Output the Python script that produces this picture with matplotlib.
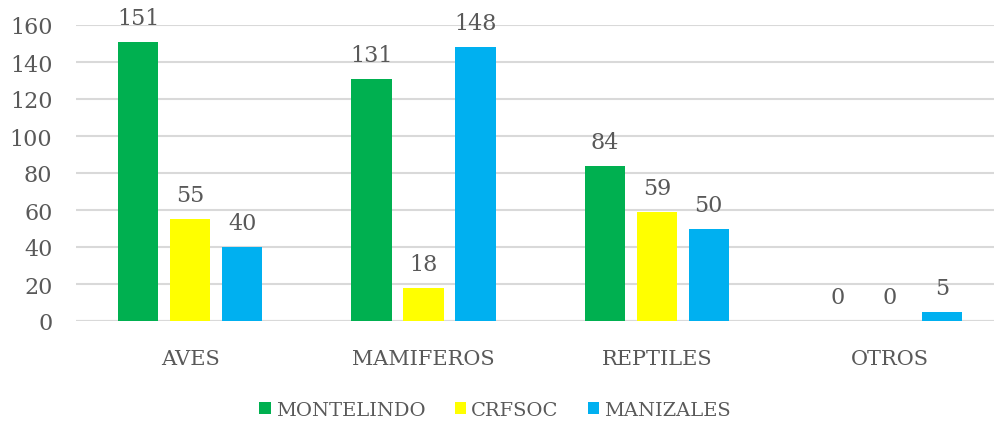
import matplotlib
matplotlib.use("Agg")
import matplotlib.pyplot as plt
import numpy as np

categories = ["AVES", "MAMIFEROS", "REPTILES", "OTROS"]
series_names = ["MONTELINDO", "CRFSOC", "MANIZALES"]
montelindo = [151, 131, 84, 0]
crfsoc = [55, 18, 59, 0]
manizales = [40, 148, 50, 5]
colors = ["#00B050", "#FFFF00", "#00B0F0"]
yticks = [0, 20, 40, 60, 80, 100, 120, 140, 160]

plt.rcParams['font.family'] = ['DejaVu Serif']
fig = plt.figure(figsize=(9.95, 4.31), dpi=100)
ax = fig.add_axes([76/995, 1 - 322/431, (995-76)/995, (322-26)/431])

x = np.arange(len(categories))
width = 0.172
offset = 0.223
text_color = "#595959"
for i, (vals, name, c) in enumerate(zip([montelindo, crfsoc, manizales], series_names, colors)):
    pos = x + (i - 1) * offset
    ax.bar(pos, vals, width, color=c, label=name, zorder=3)
    for p, v in zip(pos, vals):
        ax.text(p, v + 7, str(v), ha='center', va='bottom', fontsize=16, color=text_color)

ax.set_ylim(0, 160)
ax.set_xlim(-0.49, 3.45)
ax.set_yticks(yticks)
ax.set_xticks(x)
ax.set_xticklabels(categories)
ax.tick_params(axis='both', length=0, labelcolor=text_color)
ax.tick_params(axis='x', pad=20, labelsize=15)
ax.tick_params(axis='y', pad=17, labelsize=16)
ax.yaxis.grid(True, color="#D9D9D9", linewidth=1.5, zorder=0)
ax.set_axisbelow(True)
for s in ax.spines.values():
    s.set_visible(False)
ax.axhline(0, color="#D9D9D9", linewidth=1.5, zorder=2)

leg = fig.legend(loc='center', bbox_to_anchor=(495/995, 1 - 411/431), ncol=3, frameon=False,
                 fontsize=14, handlelength=0.6, handleheight=0.6, handletextpad=0.25, columnspacing=1.5)
for t in leg.get_texts():
    t.set_color(text_color)

fig.savefig("out.png", dpi=100)
